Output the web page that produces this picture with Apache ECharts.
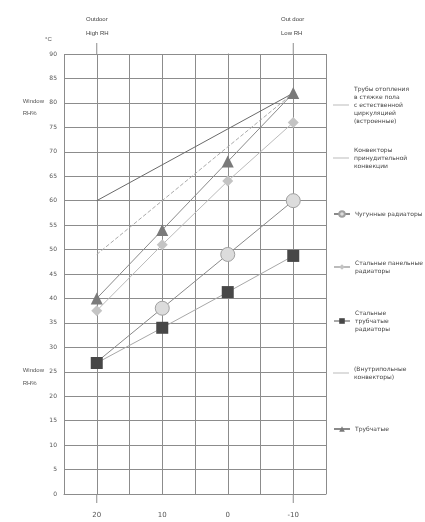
<!DOCTYPE html>
<html>
<head>
<meta charset="utf-8">
<script src="https://cdn.jsdelivr.net/npm/echarts@6/dist/echarts.min.js"></script>
<style>
  html, body { margin: 0; padding: 0; background: #fff; }
  #chart { width: 425px; height: 522px; }
</style>
</head>
<body>
<div id="chart"></div>
<script>
// outdoor temperature positions (x axis, inverted)
const outdoorTemps = [20, 10, 0, -10]
const xTickLabels = ['20', '10', '0', '-10']

// series values (°C)
const lineSolid = [[20, 60], [-10, 82]]
const lineDashed = [[20, 49], [-10, 82]]
const triangleVals = [40, 54, 68, 82]
const diamondVals = [37.5, 51, 64, 76]
const circleVals = [27, 38, 49, 60]
const squareVals = [26.8, 34, 41.3, 48.7]

const legendNames = [
  'Трубы отопления\nв стяжке пола\nс естественной\nциркуляцией\n(встроенные)',
  'Конвекторы\nпринудительной\nконвекции',
  'Чугунные радиаторы',
  'Стальные панельные\nрадиаторы',
  'Стальные\nтрубчатые\nрадиаторы',
  '(Внутрипольные\nконвекторы)',
  'Трубчатые'
]
const legendTops = [105, 158, 214, 267, 321, 373, 429]
// plain line icon in the legend for the series without markers
const plainLegend = [true, true, false, false, false, true, false]

const pair = (vals) => vals.map((v, i) => [outdoorTemps[i], v])

const chart = echarts.init(document.getElementById('chart'))

const gridColor = '#8c8c8c'
const textColor = '#555'

const option = {
  backgroundColor: '#fff',
  animation: false,
  textStyle: {fontFamily: 'DejaVu Sans'},
  grid: {left: 64, right: 99, top: 54, bottom: 28},
  legend: legendNames.map((n, i) => ({
    data: [plainLegend[i]
      ? {name: n, icon: 'rect', itemStyle: {color: '#bbb', borderWidth: 0}}
      : n],
    left: 333,
    top: legendTops[i] - 4 * n.split('\n').length,
    orient: 'vertical',
    itemWidth: 16,
    itemHeight: plainLegend[i] ? 1 : 7,
    itemGap: 0,
    padding: 0,
    selectedMode: false,
    textStyle: {fontSize: 6, color: '#444', lineHeight: 8}
  })),
  xAxis: {
    type: 'value',
    inverse: true,
    min: -15,
    max: 25,
    interval: 5,
    axisLine: {show: true, lineStyle: {color: gridColor}},
    axisTick: {show: false},
    splitLine: {show: true, lineStyle: {color: gridColor, width: 1}},
    axisLabel: {
      color: textColor,
      fontSize: 7,
      margin: 18,
      formatter: (v) => {
        const i = outdoorTemps.indexOf(v)
        return i >= 0 ? xTickLabels[i] : ''
      }
    }
  },
  yAxis: {
    type: 'value',
    min: 0,
    max: 90,
    interval: 5,
    axisLine: {show: true, lineStyle: {color: gridColor}},
    axisTick: {show: false},
    splitLine: {show: true, lineStyle: {color: gridColor, width: 1}},
    axisLabel: {color: textColor, fontSize: 6, margin: 7}
  },
  graphic: [
    {type: 'text', left: 86, top: 12, style: {text: 'Outdoor\nHigh RH', fill: '#444', fontSize: 6, lineHeight: 14, align: 'center'}},
    {type: 'text', left: 281, top: 12, style: {text: 'Out door\nLow RH', fill: '#444', fontSize: 6, lineHeight: 14, align: 'center'}},
    {type: 'text', left: 45, top: 36, style: {text: '°C', fill: textColor, fontSize: 6}},
    {type: 'text', right: 381, top: 95, style: {text: 'Window\nRH%', fill: textColor, fontSize: 6, lineHeight: 12, align: 'right'}},
    {type: 'text', right: 381, top: 364, style: {text: 'Window\nRH%', fill: textColor, fontSize: 6, lineHeight: 13, align: 'right'}}
  ],
  series: [
    {
      name: legendNames[0],
      type: 'line',
      data: lineSolid,
      symbol: 'none',
      lineStyle: {color: '#6a6a6a', width: 1},
      itemStyle: {color: '#bbb'}
    },
    {
      name: legendNames[1],
      type: 'line',
      data: lineDashed,
      symbol: 'none',
      lineStyle: {color: '#aaa', width: 1, type: 'dashed'},
      itemStyle: {color: '#bbb'}
    },
    {
      name: legendNames[2],
      type: 'line',
      data: pair(circleVals).map((p, i) => i === 0 ? {value: p, symbol: 'none'} : p),
      symbol: 'circle',
      symbolSize: 14,
      lineStyle: {color: '#8a8a8a', width: 1},
      itemStyle: {color: '#dcdcdc', borderColor: '#a0a0a0', borderWidth: 1}
    },
    {
      name: legendNames[3],
      type: 'line',
      data: pair(diamondVals),
      symbol: 'diamond',
      symbolSize: 11,
      lineStyle: {color: '#bbb', width: 1},
      itemStyle: {color: '#c4c4c4'}
    },
    {
      name: legendNames[4],
      type: 'line',
      data: pair(squareVals),
      symbol: 'rect',
      symbolSize: 12,
      z: 5,
      lineStyle: {color: '#a8a8a8', width: 1},
      itemStyle: {color: '#474747'}
    },
    {
      name: legendNames[5],
      type: 'line',
      data: [],
      symbol: 'none',
      lineStyle: {color: '#bbb', width: 1},
      itemStyle: {color: '#bbb'}
    },
    {
      name: legendNames[6],
      type: 'line',
      data: pair(triangleVals),
      symbol: 'triangle',
      symbolSize: 12,
      lineStyle: {color: '#8a8a8a', width: 1},
      itemStyle: {color: '#7a7a7a'}
    }
  ]
}

chart.setOption(option)

// extend the vertical lines at the outermost labelled temperatures above and below the plot
const ends = [outdoorTemps[0], outdoorTemps[outdoorTemps.length - 1]]
const extra = []
ends.forEach((t) => {
  const top = chart.convertToPixel({gridIndex: 0}, [t, 90])
  const bot = chart.convertToPixel({gridIndex: 0}, [t, 0])
  extra.push({type: 'line', shape: {x1: top[0], y1: top[1] - 11, x2: top[0], y2: top[1]}, style: {stroke: gridColor, lineWidth: 1}})
  extra.push({type: 'line', shape: {x1: bot[0], y1: bot[1], x2: bot[0], y2: bot[1] + 9}, style: {stroke: gridColor, lineWidth: 1}})
})
chart.setOption({graphic: option.graphic.concat(extra)})
</script>
</body>
</html>
